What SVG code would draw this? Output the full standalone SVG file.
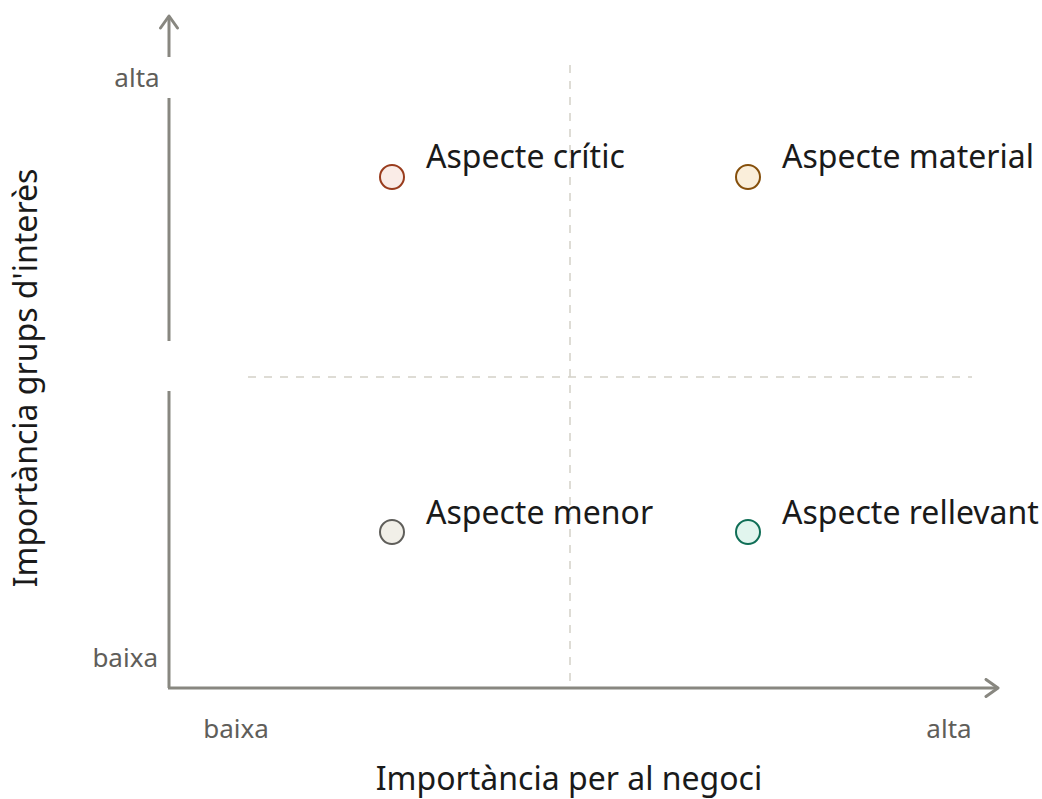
<svg xmlns="http://www.w3.org/2000/svg" width="1042" height="799" viewBox="0 0 1042 799">
<style>
.axis{stroke:#888780;stroke-width:3;fill:none}
.grid{stroke:#d3d1c7;stroke-width:1.5;stroke-dasharray:8 8;fill:none}
.tick{font-family:"Noto Sans","Open Sans",sans-serif;font-size:26px;fill:#5f5e5a}
.title{font-family:"Noto Sans","Open Sans",sans-serif;font-size:32px;fill:#1a1a1a}
.lab{font-family:"Noto Sans","Open Sans",sans-serif;font-size:32px;fill:#1a1a1a}
</style>
<defs>
<marker id="arr" viewBox="0 0 20 20" refX="16" refY="10" markerWidth="20" markerHeight="20" markerUnits="userSpaceOnUse" orient="auto">
<path d="M4 1.5 L16 10 L4 18.5" fill="none" stroke="#888780" stroke-width="3" stroke-linecap="round" stroke-linejoin="round"/>
</marker>
</defs>
<rect width="1042" height="799" fill="#ffffff"/>
<g id="connectors">
<line class="grid" x1="570" y1="65" x2="570" y2="688"/>
<line class="grid" x1="248" y1="377" x2="972" y2="377"/>
<path class="axis" d="M169 688 L169 391 M169 341 L169 98" />
<path class="axis" d="M169 57 L169 16" marker-end="url(#arr)"/>
<path class="axis" d="M168 688 L998 688" marker-end="url(#arr)"/>
</g>
<g id="axis-labels">
<text class="tick" x="137" y="87" text-anchor="middle">alta</text>
<text class="tick" x="158" y="667" text-anchor="end">baixa</text>
<text class="tick" x="236" y="738" text-anchor="middle">baixa</text>
<text class="tick" x="949" y="738" text-anchor="middle">alta</text>
<text class="title" x="569" y="790" text-anchor="middle">Importància per al negoci</text>
<text class="title" x="0" y="0" text-anchor="middle" transform="translate(37 378) rotate(-90)">Importància grups d'interès</text>
</g>
<g id="node-critic">
<circle cx="392" cy="177" r="12" fill="#faece7" stroke="#993c1d" stroke-width="2"/>
<text class="lab" x="426" y="168">Aspecte crític</text>
</g>
<g id="node-material">
<circle cx="748" cy="177" r="12" fill="#faeeda" stroke="#854f0b" stroke-width="2"/>
<text class="lab" x="782" y="168">Aspecte material</text>
</g>
<g id="node-menor">
<circle cx="392" cy="532" r="12" fill="#f1efe8" stroke="#5f5e5a" stroke-width="2"/>
<text class="lab" x="426" y="524">Aspecte menor</text>
</g>
<g id="node-rellevant">
<circle cx="748" cy="532" r="12" fill="#e1f5ee" stroke="#0f6e56" stroke-width="2"/>
<text class="lab" x="782" y="524">Aspecte rellevant</text>
</g>
</svg>
